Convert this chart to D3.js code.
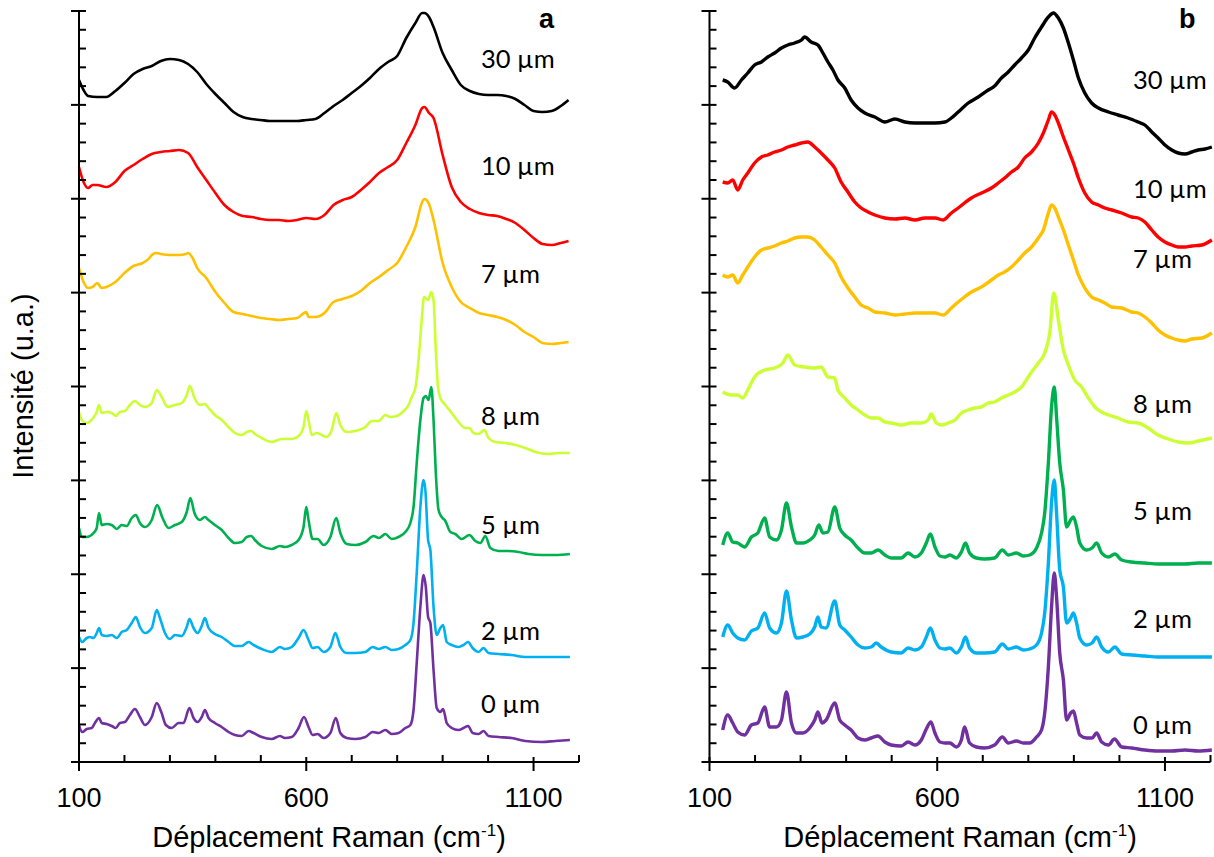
<!DOCTYPE html>
<html><head><meta charset="utf-8">
<script src="https://cdn.jsdelivr.net/npm/d3@7"></script>
<style>body{margin:0;background:#fff;} svg{display:block;}</style>
</head><body>
<svg id="chart" width="1214" height="857"></svg>
<script>
// ---------- data ----------
const seriesLabels = ["30 µm","10 µm","7 µm","8 µm","5 µm","2 µm","0 µm"];
const seriesColors = ["#000000","#FF0000","#FFC000","#CCFF33","#00B050","#00B0F0","#7030A0"];
const panelNames = ["a","b"];
const xTickLabels = [100, 600, 1100];
const xMinorStep = 100;
const xDomain = [100, 1200];
const yDomain = [0, 751];
const yMajorCount = 8;
const yMinorPerMajor = 5;
const xTitle = "Déplacement Raman (cm";
const xTitleSup = "-1";
const yTitle = "Intensité (u.a.)";

// panel a spectra: [Raman shift (cm-1), stacked intensity (u.a.)]
const a30 = [[100,682],[110,672],[120,666],[140,665],[160,665],[180,671],[200,679],[220,688],[240,693],[260,696],[280,701],[300,703],[320,702],[340,698],[360,690],[380,678],[400,668],[420,659],[440,650],[460,645],[480,643],[500,642],[520,641],[540,641],[560,641],[580,641],[600,642],[620,643],[640,649],[660,656],[680,662],[700,669],[720,676],[740,684],[760,693],[780,700],[800,706],[820,724],[840,739],[855,749],[860,749],[870,745],[880,735],[900,709],[920,692],[940,677],[960,671],[980,668],[1000,667],[1020,667],[1040,666],[1060,663],[1080,657],[1100,651],[1120,650],[1140,651],[1160,656],[1177,662]];
const a10 = [[100,595],[110,580],[120,574],[130,577],[140,577],[160,575],[180,580],[200,591],[220,597],[240,603],[260,608],[280,610],[300,611],[320,612],[340,609],[360,595],[380,582],[400,569],[420,557],[440,550],[460,546],[480,545],[500,543],[520,542],[540,542],[560,541],[580,542],[600,544],[620,543],[640,547],[660,557],[680,562],[700,565],[720,572],[740,580],[760,589],[780,595],[800,602],[820,619],[840,637],[855,654],[860,655],[870,649],[880,644],[900,607],[920,575],[940,560],[960,553],[980,549],[1000,547],[1020,546],[1040,543],[1060,539],[1080,532],[1100,524],[1120,518],[1140,517],[1160,519],[1177,521]];
const a7 = [[100,494],[110,480],[120,474],[130,475],[140,479],[150,474],[160,475],[180,480],[200,489],[220,496],[240,499],[255,504],[260,507],[270,509],[280,508],[300,507],[320,507],[335,508],[340,509],[350,504],[360,494],[380,484],[400,470],[420,459],[440,450],[460,448],[480,446],[500,444],[520,443],[540,442],[560,443],[580,444],[595,449],[600,450],[605,445],[620,445],[640,449],[660,460],[680,463],[700,466],[720,471],[740,479],[760,485],[780,492],[800,499],[820,515],[840,535],[855,560],[860,563],[870,558],[880,542],[900,499],[920,475],[940,460],[960,454],[980,449],[1000,447],[1020,445],[1040,442],[1060,437],[1080,430],[1100,425],[1120,419],[1140,418],[1160,419],[1177,420]];
const a8 = [[100,350],[106,342],[117,339],[131,344],[139,350],[144,357],[150,349],[161,350],[172,349],[181,346],[190,350],[201,351],[212,357],[223,361],[234,357],[245,355],[260,359],[271,372],[283,364],[295,355],[311,357],[326,359],[337,367],[344,376],[354,364],[366,357],[377,358],[385,354],[399,347],[414,342],[429,335],[443,329],[458,327],[469,330],[479,331],[487,328],[502,324],[524,320],[546,323],[568,323],[583,326],[594,335],[600,351],[605,342],[612,327],[623,329],[634,327],[645,325],[656,332],[666,349],[675,337],[689,330],[708,331],[730,335],[744,341],[759,341],[774,347],[785,345],[799,346],[814,351],[825,357],[832,365],[840,374],[847,402],[854,442],[859,465],[868,462],[875,470],[880,462],[885,412],[890,374],[895,364],[906,357],[920,349],[935,340],[950,334],[959,334],[968,329],[979,328],[992,332],[1001,324],[1016,320],[1038,319],[1060,317],[1082,314],[1104,310],[1133,308],[1155,309],[1180,309]];
const a5 = [[100,234],[107,225],[117,225],[132,229],[139,234],[144,249],[150,237],[161,238],[172,237],[183,233],[194,237],[205,236],[216,244],[225,247],[234,239],[245,235],[260,242],[272,257],[283,245],[297,234],[311,237],[326,240],[337,250],[345,264],[354,249],[366,242],[377,245],[385,242],[399,237],[414,232],[429,224],[443,219],[458,220],[469,225],[479,226],[487,222],[502,216],[524,213],[542,216],[553,215],[568,217],[583,222],[594,235],[600,255],[605,242],[614,223],[625,223],[638,217],[653,225],[666,244],[675,229],[689,218],[708,217],[730,220],[748,226],[760,224],[774,228],[788,223],[803,225],[818,230],[829,239],[836,255],[843,299],[851,342],[858,364],[863,366],[869,362],[875,375],[880,342],[885,289],[891,252],[898,245],[906,241],[917,230],[928,228],[942,223],[959,227],[972,221],[983,219],[994,226],[1005,214],[1023,211],[1045,211],[1067,210],[1089,208],[1118,207],[1148,207],[1180,208]];
const a2 = [[100,125],[107,120],[117,124],[124,125],[132,124],[139,129],[144,134],[150,127],[161,126],[172,127],[183,124],[194,130],[205,132],[216,139],[225,145],[234,135],[245,129],[260,134],[271,152],[278,144],[289,129],[300,123],[311,127],[326,126],[337,135],[343,143],[352,134],[361,129],[370,136],[377,144],[385,134],[399,128],[414,125],[429,120],[443,116],[458,116],[473,120],[484,117],[502,113],[524,110],[542,115],[553,113],[568,115],[583,124],[594,132],[605,122],[614,114],[625,115],[638,110],[653,115],[664,129],[675,115],[689,109],[708,109],[730,110],[746,115],[759,113],[774,115],[788,112],[803,113],[818,117],[829,122],[836,139],[843,189],[851,255],[858,282],[862,272],[868,222],[873,212],[880,155],[887,127],[895,134],[901,137],[909,120],[920,117],[935,115],[946,117],[956,120],[966,114],[979,110],[990,114],[1001,109],[1023,108],[1052,107],[1082,105],[1118,105],[1148,105],[1180,105]];
const a0 = [[100,37],[107,30],[117,33],[128,34],[135,39],[144,44],[150,39],[161,38],[172,36],[181,34],[190,39],[201,40],[212,47],[223,53],[234,45],[245,37],[260,45],[271,59],[281,50],[291,37],[304,34],[319,39],[330,39],[343,54],[352,44],[361,40],[370,45],[377,52],[385,44],[399,39],[414,35],[429,30],[443,27],[458,26],[473,31],[484,29],[502,25],[524,23],[542,26],[553,24],[568,25],[583,34],[595,45],[605,35],[614,27],[625,28],[638,24],[653,29],[665,44],[675,29],[689,24],[708,23],[730,25],[746,30],[759,29],[774,32],[788,28],[803,29],[818,34],[829,37],[836,52],[843,99],[851,155],[858,187],[863,175],[868,145],[873,139],[880,92],[887,54],[895,50],[901,53],[909,39],[920,34],[935,32],[946,34],[956,36],[966,29],[979,28],[990,31],[1001,26],[1023,25],[1052,24],[1082,21],[1118,20],[1148,21],[1180,22]];

// panel b spectra
const b30 = [[129,682],[140,680],[155,674],[170,682],[184,689],[199,697],[214,700],[228,705],[243,709],[258,714],[272,717],[287,719],[302,722],[309,725],[323,720],[338,717],[349,709],[360,700],[371,692],[382,682],[397,674],[411,662],[426,654],[441,649],[463,645],[485,640],[507,643],[529,640],[551,639],[573,639],[595,639],[617,640],[631,644],[646,650],[668,659],[690,665],[712,672],[726,676],[741,684],[756,690],[770,697],[785,704],[800,712],[814,724],[829,735],[844,745],[855,749],[866,744],[877,734],[888,719],[899,702],[910,684],[924,669],[939,659],[954,654],[976,650],[997,647],[1019,644],[1041,640],[1056,637],[1071,630],[1085,624],[1100,617],[1115,612],[1129,609],[1144,608],[1159,610],[1173,612],[1188,613],[1203,615]];
const b10 = [[129,580],[140,579],[151,582],[162,572],[173,582],[184,589],[199,599],[214,605],[228,607],[243,610],[258,612],[272,615],[287,617],[302,619],[316,620],[331,615],[345,609],[360,602],[375,594],[389,580],[404,570],[419,560],[433,554],[448,550],[463,547],[485,544],[507,543],[529,544],[551,542],[573,544],[595,544],[613,542],[631,549],[646,554],[660,559],[675,564],[697,569],[719,574],[734,579],[748,584],[763,590],[778,595],[792,604],[807,610],[822,619],[833,629],[844,642],[851,650],[858,647],[866,639],[877,625],[888,612],[899,599],[910,584],[924,569],[939,560],[954,557],[968,554],[983,552],[1005,549],[1027,545],[1041,544],[1056,540],[1071,532],[1085,525],[1100,520],[1115,517],[1129,515],[1144,515],[1159,516],[1181,517],[1203,522]];
const b7 = [[129,487],[140,485],[151,487],[162,479],[173,487],[184,495],[199,505],[214,512],[228,514],[243,516],[258,519],[272,521],[287,524],[302,525],[316,525],[331,522],[345,515],[360,507],[375,499],[389,485],[404,474],[419,465],[433,457],[448,454],[463,450],[485,449],[507,447],[529,448],[551,449],[573,449],[595,449],[613,447],[631,454],[646,460],[660,465],[675,470],[697,475],[719,482],[734,487],[748,490],[763,495],[778,502],[792,509],[807,515],[822,524],[833,532],[844,549],[851,557],[858,554],[866,545],[877,532],[888,517],[899,502],[910,487],[924,474],[939,465],[954,462],[968,459],[983,455],[1005,454],[1027,450],[1041,449],[1056,445],[1071,439],[1085,432],[1100,427],[1115,424],[1129,422],[1144,421],[1159,423],[1181,424],[1203,429]];
const b8 = [[129,370],[148,367],[162,367],[173,364],[184,372],[199,385],[221,392],[243,394],[261,399],[272,407],[287,397],[309,395],[331,394],[345,395],[360,385],[375,384],[382,372],[397,364],[411,357],[426,352],[441,347],[455,344],[470,344],[485,340],[499,339],[521,337],[543,339],[565,339],[580,342],[587,348],[598,339],[609,337],[624,339],[639,342],[653,349],[668,352],[682,354],[697,355],[712,359],[726,360],[741,364],[756,367],[770,370],[785,375],[807,390],[822,399],[836,409],[847,429],[856,469],[866,442],[877,412],[888,397],[902,382],[917,375],[932,364],[946,355],[961,350],[976,347],[997,344],[1019,340],[1041,339],[1063,334],[1085,327],[1107,323],[1129,320],[1151,319],[1173,321],[1203,324]];
const b5 = [[129,217],[140,229],[151,220],[162,219],[177,215],[192,225],[206,229],[221,244],[232,225],[247,222],[258,232],[269,259],[280,235],[291,219],[305,219],[320,222],[331,227],[340,237],[349,229],[360,230],[375,255],[386,234],[397,227],[411,222],[426,214],[441,209],[455,209],[470,212],[485,207],[499,204],[521,204],[536,209],[551,205],[565,209],[576,219],[585,228],[595,215],[606,206],[617,205],[628,207],[642,204],[653,210],[662,219],[671,209],[686,204],[704,203],[726,204],[743,212],[756,207],[774,209],[789,206],[803,207],[818,214],[829,229],[836,249],[844,299],[851,355],[857,375],[862,345],[869,299],[877,272],[884,235],[893,242],[899,245],[906,235],[913,219],[928,212],[940,214],[950,219],[961,209],[976,205],[990,208],[1005,202],[1027,200],[1056,199],[1085,198],[1115,198],[1144,198],[1173,199],[1203,199]];
const b2 = [[129,125],[140,137],[151,129],[162,124],[177,122],[192,131],[206,134],[221,149],[232,134],[247,129],[258,139],[269,171],[280,142],[291,124],[305,125],[320,128],[331,135],[338,145],[345,135],[356,134],[375,161],[386,137],[397,132],[411,125],[426,117],[441,114],[455,115],[466,119],[477,115],[499,110],[521,109],[536,114],[551,112],[565,115],[576,125],[585,134],[595,122],[606,114],[617,113],[628,114],[642,109],[653,115],[662,125],[671,114],[686,109],[704,109],[726,110],[743,118],[756,113],[774,115],[789,112],[803,113],[818,117],[829,129],[836,149],[844,199],[851,259],[857,282],[862,249],[869,192],[877,175],[884,139],[893,144],[899,149],[906,139],[913,124],[928,117],[940,119],[950,125],[961,115],[976,110],[990,115],[1005,108],[1027,107],[1056,106],[1085,105],[1115,105],[1144,105],[1173,105],[1203,105]];
const b0 = [[129,32],[140,47],[151,39],[162,30],[177,27],[192,37],[206,39],[221,55],[232,35],[247,35],[258,42],[269,70],[280,39],[291,29],[305,29],[320,34],[331,42],[338,50],[347,39],[356,42],[375,59],[386,42],[397,37],[411,32],[426,24],[441,22],[455,24],[470,26],[485,20],[499,17],[521,16],[536,20],[551,17],[565,22],[576,33],[586,40],[595,29],[606,20],[617,19],[628,19],[642,15],[653,22],[660,35],[671,19],[686,15],[704,14],[726,17],[743,25],[756,19],[774,21],[789,19],[803,19],[818,25],[829,32],[836,49],[844,95],[851,155],[857,189],[862,165],[869,109],[877,82],[884,42],[893,49],[899,51],[906,39],[913,27],[928,24],[940,24],[950,29],[961,20],[976,17],[989,23],[1005,15],[1027,14],[1056,12],[1085,11],[1115,11],[1144,12],[1173,11],[1203,12]];

const panelSeries = [[a30,a10,a7,a8,a5,a2,a0],[b30,b10,b7,b8,b5,b2,b0]];

// ---------- layout ----------
const layout = [
  {x0:79, x1:579, y0:762, y1:11, labelX:481, labelY:[68,175,283,425,534,640,713], letterX:539, lineW:2.6},
  {x0:709.5, x1:1210.5, y0:762, y1:11, labelX:1133, labelY:[89,198,268,413,520,628,734], letterX:1179, lineW:3.4}
];
const tickFont = "'Liberation Sans', Arial, sans-serif";
const labelFont = "Lato, 'Open Sans', sans-serif";

const svg = d3.select("#chart");

layout.forEach((L, p) => {
  const x = d3.scaleLinear().domain(xDomain).range([L.x0, L.x1]);
  const y = d3.scaleLinear().domain(yDomain).range([L.y0, L.y1]);
  const g = svg.append("g");
  const majorStep = (yDomain[1]-yDomain[0]) / yMajorCount;
  const minorStep = majorStep / yMinorPerMajor;

  // spectra
  const line = d3.line().x(d => x(d[0])).y(d => y(d[1])).curve(d3.curveMonotoneX);
  panelSeries[p].forEach((s, i) => {
    g.append("path").datum(s)
      .attr("fill","none").attr("stroke",seriesColors[i])
      .attr("stroke-width",L.lineW).attr("stroke-linejoin","round")
      .attr("d",line);
  });

  // axes
  const ax = g.append("g").attr("stroke","#000").attr("stroke-width",2);
  ax.append("line").attr("x1",x(xDomain[0])).attr("x2",x(xDomain[0]))
    .attr("y1",y(yDomain[0])).attr("y2",y(yDomain[1]));
  ax.append("line").attr("x1",x(xDomain[0])).attr("x2",x(xDomain[1]))
    .attr("y1",y(yDomain[0])).attr("y2",y(yDomain[0]));
  const yMinor = d3.range(0, yMajorCount*yMinorPerMajor+1).map(k => k*minorStep);
  yMinor.forEach((v,k) => {
    const major = k % yMinorPerMajor === 0;
    ax.append("line").attr("x1",x(xDomain[0]) - (major?8:0)).attr("x2",x(xDomain[0])+7)
      .attr("y1",y(v)).attr("y2",y(v));
  });
  d3.range(xDomain[0], xDomain[1]+1, xMinorStep).forEach(v => {
    const major = xTickLabels.includes(v);
    ax.append("line").attr("x1",x(v)).attr("x2",x(v))
      .attr("y1",y(yDomain[0]) - (major?5:7)).attr("y2",y(yDomain[0]) + (major?9:0));
  });
  xTickLabels.forEach(v => {
    g.append("text").attr("x",x(v)).attr("y",807).attr("text-anchor","middle")
      .attr("font-family",tickFont).attr("font-size",27).attr("fill","#000").text(v);
  });
  // x title
  const t = g.append("text").attr("x",(L.x0+L.x1)/2).attr("y",847).attr("text-anchor","middle")
    .attr("font-family",tickFont).attr("font-size",29).attr("fill","#000");
  t.append("tspan").text(xTitle);
  t.append("tspan").attr("font-size",17).attr("dy",-11).text(xTitleSup);
  t.append("tspan").attr("dy",11).text(")");

  // series labels
  seriesLabels.forEach((lab,i) => {
    g.append("text").attr("x",L.labelX).attr("y",L.labelY[i])
      .attr("font-family",labelFont).attr("font-size",25.5).attr("fill","#000").text(lab);
  });
  // panel letter
  g.append("text").attr("x",L.letterX).attr("y",28)
    .attr("font-family",tickFont).attr("font-weight","bold").attr("font-size",27).attr("fill","#000")
    .text(panelNames[p]);
});

// y title
svg.append("text").attr("transform","translate(33,386) rotate(-90)")
  .attr("text-anchor","middle").attr("font-family",tickFont).attr("font-size",29).attr("fill","#000")
  .text(yTitle);
</script>
</body></html>
